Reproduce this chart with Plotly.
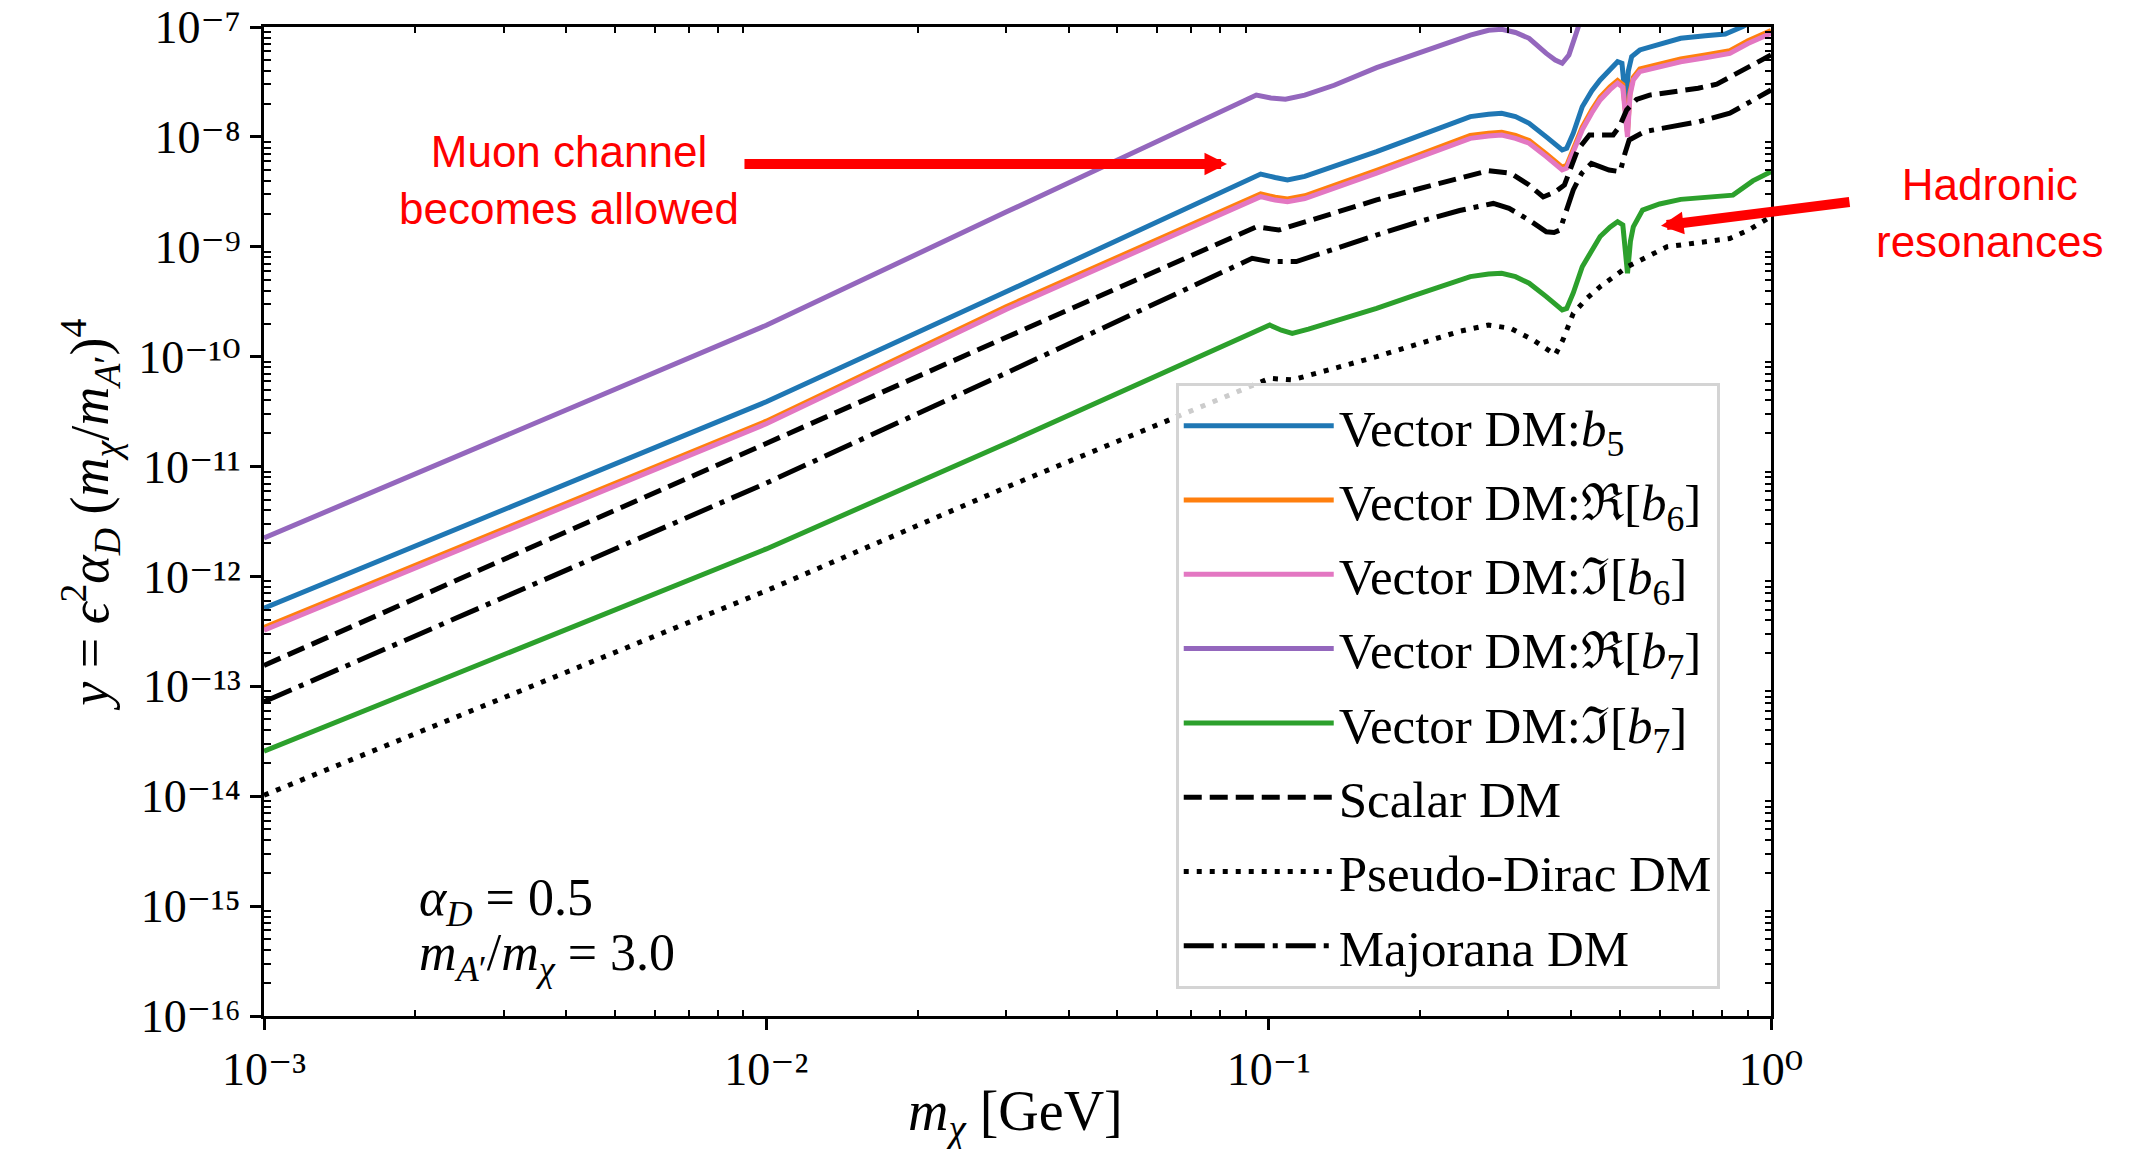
import plotly.graph_objects as go

# ---------------- data ----------------
x_b5 = [0.001, 0.01, 0.03, 0.0964, 0.103, 0.109, 0.118, 0.135, 0.164, 0.193,
        0.219, 0.252, 0.274, 0.291, 0.310, 0.330, 0.357, 0.372, 0.384, 0.392,
        0.404, 0.421, 0.440, 0.457, 0.478, 0.495, 0.505, 0.514, 0.520, 0.528,
        0.548, 0.600, 0.661, 0.740, 0.811, 0.879, 1.0]
y_b5 = [5.13e-13, 3.89e-11, 3.89e-10, 4.59e-9, 4.27e-9, 4.06e-9, 4.37e-9, 5.37e-9, 7.33e-9, 9.70e-9,
        1.20e-8, 1.53e-8, 1.61e-8, 1.64e-8, 1.53e-8, 1.33e-8, 1.00e-8, 8.43e-9, 7.60e-9, 7.87e-9,
        1.08e-8, 1.88e-8, 2.63e-8, 3.30e-8, 4.17e-8, 4.83e-8, 4.68e-8, 2.02e-8, 3.98e-8, 5.37e-8,
        6.18e-8, 6.92e-8, 7.89e-8, 8.32e-8, 8.63e-8, 1.01e-7, 1.41e-7]

x_reb6 = [0.001, 0.01, 0.03, 0.0964, 0.103, 0.109, 0.118, 0.135, 0.164, 0.193,
          0.219, 0.252, 0.274, 0.291, 0.310, 0.330, 0.357, 0.372, 0.384, 0.392,
          0.404, 0.421, 0.440, 0.457, 0.478, 0.495, 0.507, 0.518, 0.524, 0.532,
          0.548, 0.600, 0.661, 0.740, 0.828, 0.9, 1.0]
y_reb6 = [3.43e-13, 2.59e-11, 2.85e-10, 3.03e-9, 2.82e-9, 2.72e-9, 2.91e-9, 3.59e-9, 4.95e-9, 6.53e-9,
          8.04e-9, 1.03e-8, 1.08e-8, 1.10e-8, 1.03e-8, 9.27e-9, 7.00e-9, 5.95e-9, 5.30e-9, 5.50e-9,
          7.67e-9, 1.23e-8, 1.76e-8, 2.30e-8, 2.85e-8, 3.26e-8, 2.99e-8, 1.10e-8, 2.54e-8, 3.49e-8,
          4.15e-8, 4.63e-8, 5.12e-8, 5.56e-8, 6.09e-8, 7.50e-8, 9.27e-8]

x_imb6 = [0.001, 0.01, 0.03, 0.0964, 0.103, 0.109, 0.118, 0.135, 0.164, 0.193,
          0.219, 0.252, 0.274, 0.291, 0.310, 0.330, 0.357, 0.372, 0.384, 0.392,
          0.404, 0.421, 0.440, 0.457, 0.478, 0.495, 0.507, 0.518, 0.524, 0.532,
          0.548, 0.600, 0.661, 0.740, 0.828, 0.9, 1.0]
y_imb6 = [3.24e-13, 2.45e-11, 2.69e-10, 2.86e-9, 2.66e-9, 2.57e-9, 2.75e-9, 3.39e-9, 4.67e-9, 6.17e-9,
          7.59e-9, 9.70e-9, 1.02e-8, 1.04e-8, 9.70e-9, 8.75e-9, 6.61e-9, 5.62e-9, 5.00e-9, 5.19e-9,
          7.24e-9, 1.16e-8, 1.66e-8, 2.17e-8, 2.69e-8, 3.08e-8, 2.82e-8, 1.00e-8, 2.40e-8, 3.30e-8,
          3.92e-8, 4.37e-8, 4.83e-8, 5.25e-8, 5.75e-8, 7.08e-8, 8.75e-8]

x_reb7 = [0.001, 0.01, 0.03, 0.0945, 0.101, 0.108, 0.118, 0.135, 0.164, 0.193,
          0.219, 0.252, 0.274, 0.291, 0.310, 0.330, 0.357, 0.372, 0.384, 0.396,
          0.412, 0.43, 0.6, 1.0]
y_reb7 = [2.24e-12, 1.93e-10, 2.07e-9, 2.40e-8, 2.26e-8, 2.20e-8, 2.40e-8, 2.95e-8, 4.27e-8, 5.50e-8,
          6.76e-8, 8.45e-8, 9.33e-8, 9.53e-8, 8.91e-8, 7.89e-8, 5.75e-8, 5.01e-8, 4.68e-8, 5.56e-8,
          9.55e-8, 1.78e-7, 3.16e-7, 3.98e-7]

x_imb7 = [0.001, 0.01, 0.03, 0.092, 0.1005, 0.106, 0.1114, 0.12, 0.135, 0.164,
          0.193, 0.219, 0.252, 0.274, 0.291, 0.310, 0.330, 0.357, 0.372, 0.384,
          0.392, 0.404, 0.421, 0.440, 0.457, 0.478, 0.495, 0.507, 0.518, 0.525,
          0.532, 0.555, 0.600, 0.661, 0.740, 0.84, 0.92, 1.0]
y_imb7 = [2.57e-14, 1.78e-12, 1.62e-11, 1.66e-10, 1.94e-10, 1.74e-10, 1.63e-10, 1.78e-10, 2.09e-10, 2.75e-10,
          3.55e-10, 4.27e-10, 5.35e-10, 5.65e-10, 5.74e-10, 5.35e-10, 4.66e-10, 3.52e-10, 2.95e-10, 2.66e-10,
          2.75e-10, 3.80e-10, 6.59e-10, 9.33e-10, 1.24e-9, 1.51e-9, 1.69e-9, 1.58e-9, 5.74e-10, 1.12e-9,
          1.52e-9, 2.16e-9, 2.45e-9, 2.70e-9, 2.82e-9, 2.95e-9, 3.98e-9, 4.82e-9]

x_scalar = [0.001, 0.01, 0.03, 0.0945, 0.1047, 0.125, 0.164, 0.2, 0.24, 0.274,
            0.303, 0.330, 0.352, 0.372, 0.388, 0.400, 0.412, 0.435, 0.485, 0.50,
            0.516, 0.540, 0.573, 0.716, 0.78, 0.843, 1.0]
y_scalar = [1.55e-13, 1.62e-11, 1.48e-10, 1.52e-9, 1.42e-9, 1.82e-9, 2.67e-9, 3.39e-9, 4.27e-9, 4.93e-9,
            4.67e-9, 3.65e-9, 2.84e-9, 3.16e-9, 3.65e-9, 5.25e-9, 7.60e-9, 1.04e-8, 1.04e-8, 1.26e-8,
            1.76e-8, 2.19e-8, 2.40e-8, 2.77e-8, 3.02e-8, 3.66e-8, 5.56e-8]

x_pdirac = [0.001, 0.01, 0.03, 0.1005, 0.1114, 0.164, 0.2, 0.24, 0.274, 0.303,
            0.336, 0.372, 0.385, 0.404, 0.43, 0.457, 0.518, 0.621, 0.828, 0.9, 1.0]
y_pdirac = [1.02e-14, 7.41e-13, 6.46e-12, 6.35e-11, 6.14e-11, 1.00e-10, 1.32e-10, 1.70e-10, 1.94e-10, 1.81e-10,
            1.42e-10, 1.04e-10, 1.41e-10, 2.48e-10, 3.39e-10, 4.34e-10, 6.59e-10, 1.00e-9, 1.19e-9, 1.41e-9,
            1.88e-9]

x_major = [0.001, 0.01, 0.03, 0.0927, 0.1005, 0.1135, 0.164, 0.2, 0.24, 0.280,
           0.301, 0.330, 0.357, 0.370, 0.380, 0.390, 0.404, 0.420, 0.439, 0.476,
           0.501, 0.512, 0.522, 0.561, 0.716, 0.828, 1.0]
y_major = [7.24e-14, 7.08e-12, 7.08e-11, 7.85e-10, 7.33e-10, 7.33e-10, 1.28e-9, 1.70e-9, 2.14e-9, 2.48e-9,
           2.24e-9, 1.75e-9, 1.37e-9, 1.35e-9, 1.42e-9, 2.00e-9, 3.29e-9, 4.68e-9, 5.75e-9, 5.00e-9,
           4.82e-9, 7.08e-9, 9.38e-9, 1.12e-8, 1.37e-8, 1.64e-8, 2.67e-8]

x_tick_vals = [1e-3, 1e-2, 1e-1, 1.0]
x_tick_text = ["10⁻³", "10⁻²", "10⁻¹", "10⁰"]
y_tick_vals = [1e-16, 1e-15, 1e-14, 1e-13, 1e-12, 1e-11, 1e-10, 1e-9, 1e-8, 1e-7]
y_tick_text = ["10⁻¹⁶", "10⁻¹⁵", "10⁻¹⁴", "10⁻¹³", "10⁻¹²", "10⁻¹¹", "10⁻¹⁰", "10⁻⁹", "10⁻⁸", "10⁻⁷"]
x_minor_vals = [m * 10.0 ** e for e in (-3, -2, -1) for m in range(2, 10)]
y_minor_vals = [m * 10.0 ** e for e in range(-16, -7) for m in range(2, 10)]

# ---------------- styling ----------------
SERIF = "Liberation Serif, Times New Roman, DejaVu Serif, serif"
SANS = "Liberation Sans, Arial, Helvetica, sans-serif"
LW = 5
series = [
    ("Vector DM:<i>b</i><sub>5</sub>", x_b5, y_b5, "#1f77b4", "solid"),
    ("Vector DM:ℜ[<i>b</i><sub>6</sub>]", x_reb6, y_reb6, "#ff7f0e", "solid"),
    ("Vector DM:ℑ[<i>b</i><sub>6</sub>]", x_imb6, y_imb6, "#e377c2", "solid"),
    ("Vector DM:ℜ[<i>b</i><sub>7</sub>]", x_reb7, y_reb7, "#9467bd", "solid"),
    ("Vector DM:ℑ[<i>b</i><sub>7</sub>]", x_imb7, y_imb7, "#2ca02c", "solid"),
    ("Scalar DM", x_scalar, y_scalar, "black", "18px,8px"),
    ("Pseudo-Dirac DM", x_pdirac, y_pdirac, "black", "5px,8px"),
    ("Majorana DM", x_major, y_major, "black", "30px,8px,5px,8px"),
]

fig = go.Figure()
for i, (name, xs, ys, col, dash) in enumerate(series):
    fig.add_trace(go.Scatter(x=xs, y=ys, mode="lines", name=name, legendgroup=f"g{i}",
                             line=dict(color=col, width=LW, dash=dash)))

# invisible helper trace so the mirrored (top / right) axes get drawn
fig.add_trace(go.Scatter(x=x_pdirac, y=y_pdirac, xaxis="x2", yaxis="y2", mode="lines",
                         line=dict(width=0, color="rgba(0,0,0,0)"), showlegend=False,
                         hoverinfo="skip"))

axis_common = dict(type="log", showgrid=False, zeroline=False, showline=True, linecolor="black",
                   linewidth=3, mirror=True, ticks="outside", ticklen=11, tickwidth=2.5,
                   tickcolor="black", ticklabeloverflow="allow", automargin=False,
                   tickfont=dict(family=SERIF, size=46, color="black"))

fig.update_layout(
    width=2139, height=1149,
    margin=dict(l=264, r=368, t=27, b=133, pad=0, autoexpand=False),
    paper_bgcolor="white", plot_bgcolor="white",
    xaxis=dict(range=[-3, 0], tickmode="array", tickvals=x_tick_vals, ticktext=x_tick_text,
               minor=dict(tickmode="array", tickvals=x_minor_vals, ticks="inside", ticklen=6,
                          tickwidth=2, tickcolor="black", showgrid=False),
               **axis_common),
    yaxis=dict(range=[-16, -7], tickmode="array", tickvals=y_tick_vals, ticktext=y_tick_text,
               minor=dict(tickmode="array", tickvals=y_minor_vals, ticks="inside", ticklen=7,
                          tickwidth=2, tickcolor="black", showgrid=False),
               **axis_common),
    xaxis2=dict(type="log", range=[-3, 0], overlaying="x", anchor="y", side="top",
                automargin=False,
                showgrid=False, zeroline=False, showline=False, ticks="", showticklabels=False,
                minor=dict(tickmode="array", tickvals=x_minor_vals, ticks="inside", ticklen=6,
                           tickwidth=2, tickcolor="black", showgrid=False)),
    yaxis2=dict(type="log", range=[-16, -7], overlaying="y", anchor="x", side="right",
                automargin=False,
                showgrid=False, zeroline=False, showline=False, ticks="", showticklabels=False,
                minor=dict(tickmode="array", tickvals=y_minor_vals, ticks="inside", ticklen=6,
                           tickwidth=2, tickcolor="black", showgrid=False)),
    legend=dict(x=0.605, y=0.64, xanchor="left", yanchor="top",
                bgcolor="rgba(255,255,255,0.8)", bordercolor="#d4d4d4", borderwidth=3,
                font=dict(family=SERIF, size=51, color="black"),
                traceorder="grouped", tracegroupgap=5, itemwidth=150),
    showlegend=True,
)

annotations = [
    # axis titles
    dict(text="<i>m</i><sub><i>χ</i></sub> [GeV]", x=0.499, y=-0.101, xref="paper", yref="paper",
         showarrow=False, font=dict(family=SERIF, size=56, color="black"),
         xanchor="center", yanchor="middle"),
    dict(text="<i>y</i> = <i>ϵ</i><sup>2</sup><i>α</i><sub><i>D</i></sub>"
              " (<i>m</i><sub><i>χ</i></sub>/<i>m</i><sub><i>A</i>′</sub>)<sup>4</sup>",
         x=-0.116, y=0.507, xref="paper", yref="paper", textangle=-90, showarrow=False,
         font=dict(family=SERIF, size=54, color="black"), xanchor="center", yanchor="middle"),
    # parameter text
    dict(text="<i>α</i><sub><i>D</i></sub> = 0.5", x=0.1015, y=0.116, xref="paper", yref="paper",
         showarrow=False, font=dict(family=SERIF, size=52, color="black"),
         xanchor="left", yanchor="middle"),
    dict(text="<i>m</i><sub><i>A</i>′</sub>/<i>m</i><sub><i>χ</i></sub> = 3.0", x=0.1015, y=0.060,
         xref="paper", yref="paper", showarrow=False,
         font=dict(family=SERIF, size=52, color="black"), xanchor="left", yanchor="middle"),
    # red call-outs
    dict(text="Muon channel<br>becomes allowed", x=0.2024, y=0.845, xref="paper", yref="paper",
         showarrow=False, font=dict(family=SANS, size=44, color="#ff0000"),
         xanchor="center", yanchor="middle", align="center"),
    dict(text="Hadronic<br>resonances", x=1.1453, y=0.812, xref="paper", yref="paper",
         showarrow=False, font=dict(family=SANS, size=44, color="#ff0000"),
         xanchor="center", yanchor="middle", align="center"),
    dict(text="", x=0.639, y=0.8615, xref="paper", yref="paper", showarrow=True,
         ax=-484, ay=0, axref="pixel", ayref="pixel", arrowhead=2, arrowsize=0.45,
         arrowwidth=10, arrowcolor="#ff0000"),
    dict(text="", x=0.927, y=0.799, xref="paper", yref="paper", showarrow=True,
         ax=190, ay=-24, axref="pixel", ayref="pixel", arrowhead=2, arrowsize=0.45,
         arrowwidth=10, arrowcolor="#ff0000"),
]
fig.update_layout(annotations=annotations)

fig.write_html("out.html")
